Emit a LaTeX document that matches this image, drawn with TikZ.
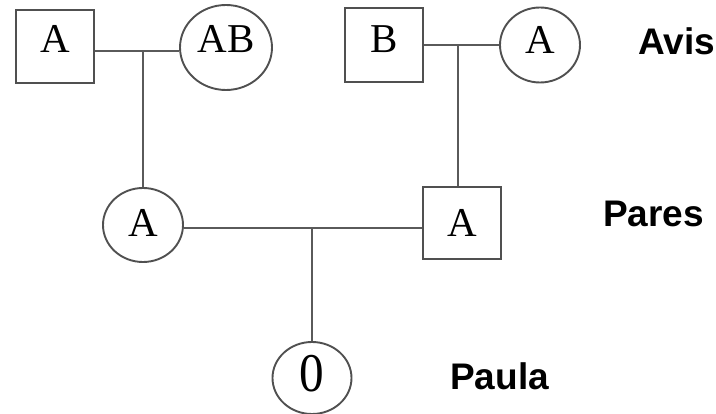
\documentclass[tikz,border=0pt]{standalone}
\usepackage{fontspec}
\setmainfont{Liberation Serif}
\newfontfamily\lblfont{Liberation Sans}
\usetikzlibrary{shapes.geometric}
\definecolor{edgegray}{HTML}{505050}
\definecolor{linegray}{HTML}{5A5A5A}
\tikzset{
  x=1pt, y=1pt,
  person/.style={draw=edgegray, line width=1.9pt, inner sep=0pt,
    font=\fontsize{41}{41}\selectfont, text height=27pt, text depth=#1},
  person/.default=0pt,
  male/.style={person=#1, rectangle, minimum width=78pt, minimum height=73pt},
  male/.default=0pt,
  female/.style={person=#1, ellipse, minimum width=80pt, minimum height=75pt},
  female/.default=0pt,
  link/.style={draw=linegray, line width=1.9pt},
  gen/.style={font=\lblfont\bfseries\fontsize{37}{37}\selectfont, anchor=base west, inner sep=0pt}
}
\begin{document}
\begin{tikzpicture}
\useasboundingbox (0,0) rectangle (716,-414);
% grandparents
\node[male=14pt] (gpA) at (55,-46.5) {A};
\node[female=16pt, minimum width=92pt, minimum height=85pt] (gmAB) at (226,-47.5) {AB};
\node[male=11pt, minimum height=74pt] (gpB) at (384,-45) {B};
\node[female=10pt] (gmA) at (540,-45) {A};
% parents
\node[female=4pt, minimum height=74pt] (mA) at (143,-225) {A};
\node[male=0pt, minimum height=72pt] (fA) at (462,-223) {A};
% child
\node[female=0pt, minimum width=79pt, minimum height=72pt, text depth=0pt] (kid) at (312,-378) {\scalebox{1.2}[1.33]{0}};
% generation labels
\node[gen] (avis) at (638,-55) {Avis};
\node[gen] (pares) at (603,-227) {Pares};
\node[gen] (paula) at (450,-390) {Paula};
% connectors
\coordinate (m1) at (143,-51);
\coordinate (m2) at (458,-45);
\coordinate (m3) at (312,-228);
\draw[link] ([yshift=-4.5pt]gpA.east) -- ([yshift=-3.5pt]gmAB.west);
\draw[link] (m1) -- (mA.north);
\draw[link] (gpB.east) -- (gmA.west);
\draw[link] (m2) -- (fA.north -| m2);
\draw[link] ([yshift=-3pt]mA.east) -- ([yshift=-5pt]fA.west);
\draw[link] (m3) -- (kid.north);
\end{tikzpicture}
\end{document}
